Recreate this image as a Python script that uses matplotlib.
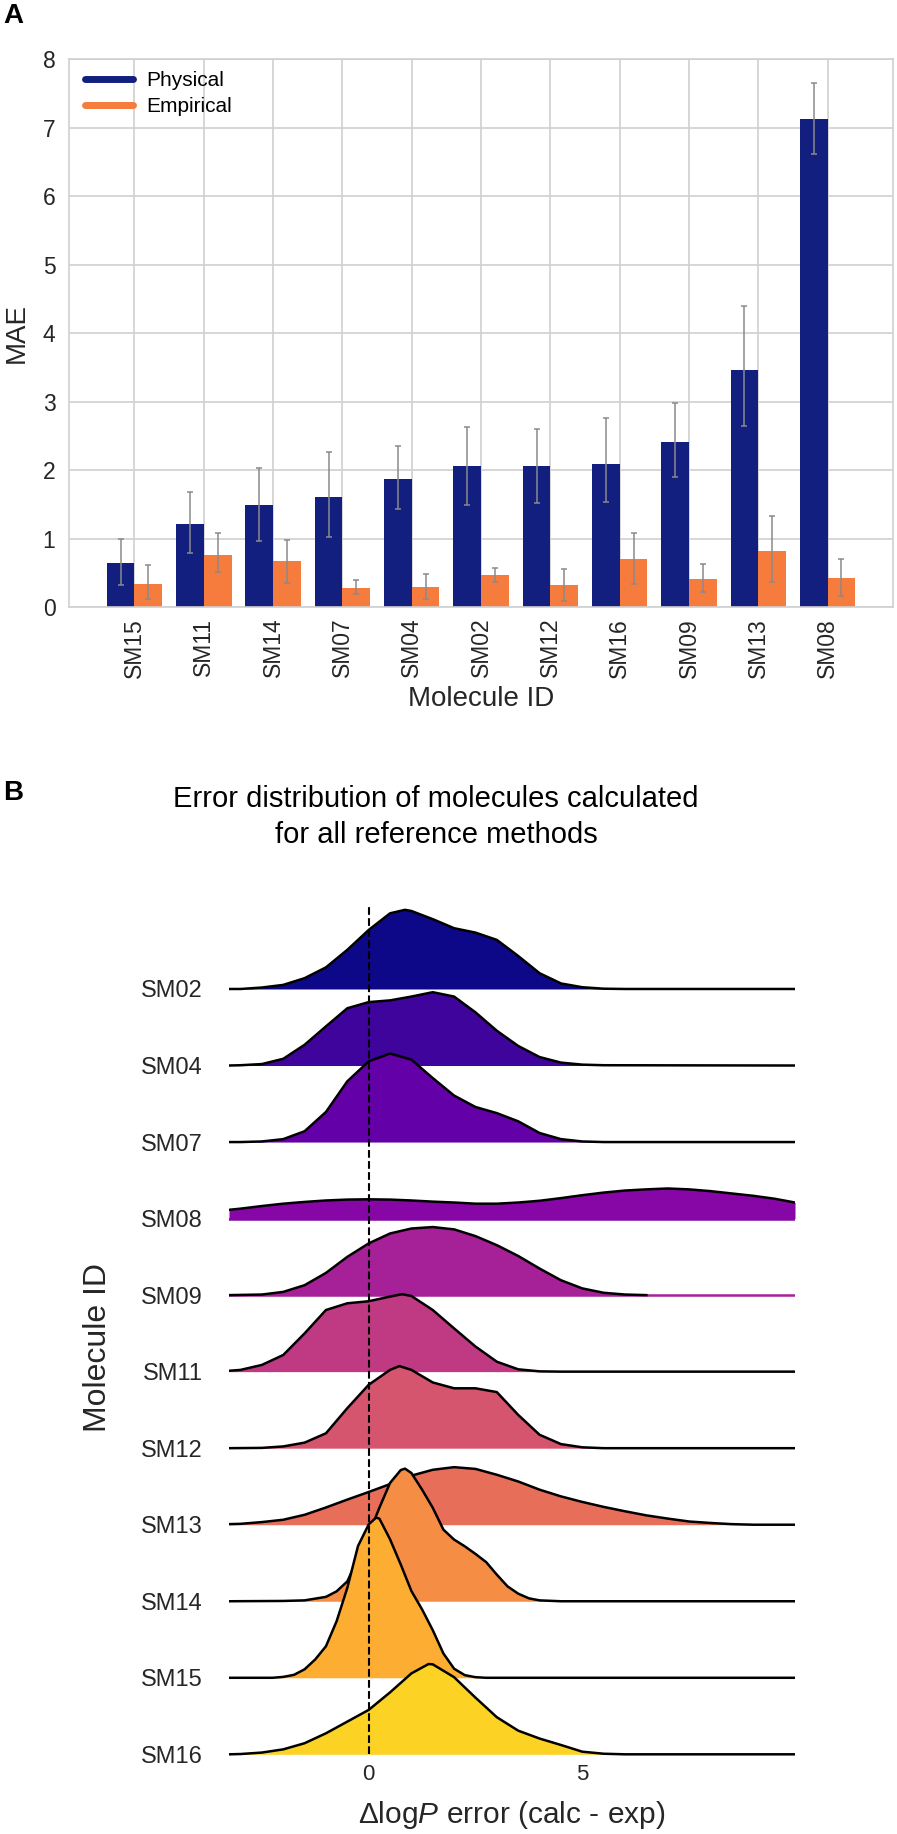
import numpy as np
import matplotlib
matplotlib.use('Agg')
import matplotlib.pyplot as plt
from matplotlib.lines import Line2D

plt.rcParams['font.family'] = ['Liberation Sans', 'DejaVu Sans']
plt.rcParams['mathtext.fontset'] = 'custom'
plt.rcParams['mathtext.rm'] = 'Liberation Sans'
plt.rcParams['mathtext.it'] = 'Liberation Sans:italic'

# ---- panel A: MAE per molecule (sorted by physical MAE) ----
molecules = ['SM15', 'SM11', 'SM14', 'SM07', 'SM04', 'SM02', 'SM12', 'SM16', 'SM09', 'SM13', 'SM08']
mae_physical = [0.645, 1.22, 1.50, 1.61, 1.87, 2.07, 2.07, 2.10, 2.41, 3.47, 7.13]
ci_physical_low = [0.32, 0.80, 0.97, 1.03, 1.44, 1.50, 1.52, 1.54, 1.90, 2.65, 6.62]
ci_physical_high = [1.00, 1.68, 2.04, 2.27, 2.36, 2.64, 2.61, 2.76, 2.98, 4.40, 7.65]
mae_empirical = [0.34, 0.76, 0.68, 0.29, 0.30, 0.47, 0.32, 0.71, 0.42, 0.825, 0.43]
ci_empirical_low = [0.13, 0.52, 0.36, 0.19, 0.12, 0.37, 0.095, 0.34, 0.22, 0.37, 0.16]
ci_empirical_high = [0.62, 1.08, 0.98, 0.40, 0.49, 0.57, 0.56, 1.09, 0.635, 1.34, 0.70]

# ---- panel B: error density per molecule ----
err_min, err_max = -3.27, 9.98
ridge_ids = ['SM02', 'SM04', 'SM07', 'SM08', 'SM09', 'SM11', 'SM12', 'SM13', 'SM14', 'SM15', 'SM16']

sm02_x = [-3.27, -3, -2.5, -2, -1.5, -1, -0.5, 0, 0.5, 0.85, 1, 1.5, 2, 2.5, 3, 3.5, 4, 4.5, 5, 5.5, 6, 9.98]
sm02_d = [0, 0, 0.005, 0.014, 0.037, 0.074, 0.134, 0.202, 0.259, 0.271, 0.267, 0.239, 0.208, 0.193, 0.168,
          0.113, 0.054, 0.019, 0.006, 0.001, 0, 0]
sm04_x = [-3.27, -3, -2.5, -2, -1.5, -1, -0.5, 0, 0.5, 1, 1.5, 2, 2.5, 3, 3.5, 4, 4.5, 5, 5.5, 9.98]
sm04_d = [0, 0.001, 0.005, 0.023, 0.071, 0.134, 0.196, 0.217, 0.223, 0.236, 0.251, 0.236, 0.182, 0.119,
          0.067, 0.029, 0.010, 0.003, 0.001, 0]
sm07_x = [-3.27, -3, -2.5, -2, -1.5, -1, -0.5, 0, 0.5, 1, 1.5, 2, 2.5, 3, 3.5, 4, 4.5, 5, 5.5, 9.98]
sm07_d = [0, 0, 0.002, 0.010, 0.037, 0.103, 0.208, 0.276, 0.303, 0.282, 0.219, 0.159, 0.120, 0.099,
          0.071, 0.031, 0.010, 0.002, 0, 0]
sm08_x = [-3.27, -3, -2.5, -2, -1.5, -1, -0.5, 0, 0.5, 1, 1.5, 2, 2.5, 3, 3.5, 4, 4.5, 5, 5.5, 6,
          6.5, 7, 7.5, 8, 8.5, 9, 9.5, 9.98]
sm08_d = [0.030, 0.034, 0.043, 0.051, 0.057, 0.062, 0.065, 0.066, 0.065, 0.062, 0.058, 0.055, 0.051, 0.051,
          0.055, 0.061, 0.070, 0.080, 0.089, 0.096, 0.100, 0.103, 0.100, 0.094, 0.086, 0.078, 0.068, 0.055]
sm09_x = [-3.27, -2.5, -2, -1.5, -1, -0.5, 0, 0.5, 1, 1.5, 2, 2.5, 3, 3.5, 4, 4.5, 5, 5.5, 6, 6.5, 9.98]
sm09_d = [0, 0.002, 0.011, 0.034, 0.076, 0.131, 0.177, 0.211, 0.228, 0.233, 0.225, 0.202, 0.171, 0.134,
          0.091, 0.051, 0.023, 0.008, 0.002, 0, 0]
sm11_x = [-3.27, -3, -2.5, -2, -1.5, -1, -0.5, 0, 0.5, 0.78, 1, 1.5, 2, 2.5, 3, 3.5, 4, 4.5, 9.98]
sm11_d = [0.003, 0.006, 0.023, 0.057, 0.131, 0.211, 0.234, 0.241, 0.257, 0.265, 0.259, 0.211, 0.148,
          0.086, 0.034, 0.008, 0.001, 0, 0]
sm12_x = [-3.27, -2.5, -2, -1.5, -1, -0.5, 0, 0.5, 0.72, 1, 1.5, 2, 2.5, 3, 3.5, 4, 4.5, 5, 5.5, 9.98]
sm12_d = [0, 0.001, 0.006, 0.019, 0.051, 0.137, 0.217, 0.268, 0.281, 0.268, 0.225, 0.205, 0.205, 0.192,
          0.114, 0.046, 0.014, 0.003, 0, 0]
sm13_x = [-3.27, -3, -2.5, -2, -1.5, -1, -0.5, 0, 0.5, 1, 1.5, 2, 2.5, 3, 3.5, 4, 4.5, 5, 5.5, 6,
          6.5, 7, 7.5, 8, 8.5, 9, 9.98]
sm13_d = [0.002, 0.003, 0.009, 0.017, 0.034, 0.059, 0.086, 0.112, 0.139, 0.168, 0.188, 0.197, 0.191, 0.171,
          0.148, 0.120, 0.097, 0.078, 0.061, 0.046, 0.032, 0.021, 0.011, 0.006, 0.002, 0, 0]
sm14_x = [-3.27, -2, -1.5, -1, -0.75, -0.5, -0.25, 0, 0.25, 0.5, 0.75, 0.85, 1, 1.25, 1.5, 1.75, 2, 2.25,
          2.5, 2.75, 3, 3.25, 3.5, 3.75, 4, 4.5, 9.98]
sm14_d = [0, 0.001, 0.003, 0.015, 0.034, 0.068, 0.148, 0.228, 0.320, 0.405, 0.449, 0.454, 0.439, 0.382,
          0.320, 0.245, 0.211, 0.188, 0.162, 0.134, 0.091, 0.051, 0.026, 0.010, 0.003, 0, 0]
sm15_x = [-3.27, -2.25, -2, -1.75, -1.5, -1.25, -1, -0.75, -0.5, -0.25, 0, 0.17, 0.25, 0.5, 0.75, 1, 1.25,
          1.5, 1.75, 2, 2.25, 2.5, 2.75, 9.98]
sm15_d = [0, 0, 0.003, 0.010, 0.029, 0.063, 0.108, 0.194, 0.308, 0.451, 0.525, 0.548, 0.545, 0.474, 0.388,
          0.297, 0.234, 0.163, 0.083, 0.031, 0.009, 0.002, 0, 0]
sm16_x = [-3.27, -3, -2.5, -2, -1.5, -1, -0.5, 0, 0.5, 1, 1.4, 1.5, 2, 2.5, 3, 3.5, 4, 4.5, 5, 5.5, 6, 9.98]
sm16_d = [0, 0.001, 0.006, 0.017, 0.038, 0.072, 0.112, 0.152, 0.212, 0.277, 0.309, 0.308, 0.264, 0.194,
          0.127, 0.081, 0.054, 0.032, 0.009, 0.002, 0, 0]

ridge_x = [sm02_x, sm04_x, sm07_x, sm08_x, sm09_x, sm11_x, sm12_x, sm13_x, sm14_x, sm15_x, sm16_x]
ridge_d = [sm02_d, sm04_d, sm07_d, sm08_d, sm09_d, sm11_d, sm12_d, sm13_d, sm14_d, sm15_d, sm16_d]

BLUE = '#121f7f'
ORANGE = '#f57c3c'
GRID = '#d0d0d0'

fig = plt.figure(figsize=(8.97, 18.34), dpi=100)

# ================= panel A =================
ax = fig.add_axes([0.0773, 0.6688, 0.9180, 0.2989])
pos = np.arange(len(molecules))
w = 0.4
phys = np.array(mae_physical)
emp = np.array(mae_empirical)
ax.bar(pos - w / 2, phys, w, color=BLUE, zorder=2)
ax.bar(pos + w / 2, emp, w, color=ORANGE, zorder=2)
ax.errorbar(pos - w / 2, phys, yerr=[phys - np.array(ci_physical_low), np.array(ci_physical_high) - phys],
            fmt='none', ecolor='#8a8a8a', elinewidth=1.1, capsize=2.3, capthick=1.1, zorder=3)
ax.errorbar(pos + w / 2, emp, yerr=[emp - np.array(ci_empirical_low), np.array(ci_empirical_high) - emp],
            fmt='none', ecolor='#8a8a8a', elinewidth=1.1, capsize=2.3, capthick=1.1, zorder=3)

ax.set_xlim(-0.94, 10.94)
ax.set_ylim(0, 8)
ax.set_xticks(pos)
ax.set_xticklabels(molecules, rotation=90)
ax.set_yticks(range(0, 9))
ax.tick_params(axis='x', length=0, pad=7.5, labelsize=16.5, colors='#262626')
ax.tick_params(axis='y', length=0, pad=10, labelsize=16.5, colors='#262626')
ax.grid(True, color=GRID, lw=1.2)
ax.set_axisbelow(True)
for sp in ax.spines.values():
    sp.set_color(GRID)
    sp.set_linewidth(1.2)
ax.set_ylabel('MAE', fontsize=20, labelpad=9, color='#262626')
ax.set_xlabel('Molecule ID', fontsize=20, labelpad=6, color='#262626')

handles = [Line2D([0], [0], color=BLUE, lw=5, solid_capstyle='round'),
           Line2D([0], [0], color=ORANGE, lw=5, solid_capstyle='round')]
ax.legend(handles, ['Physical', 'Empirical'], loc='upper left', bbox_to_anchor=(0.009, 0.993),
          borderaxespad=0, frameon=False, fontsize=15, handlelength=2.3, handletextpad=0.65,
          labelspacing=0.33)

fig.text(3 / 897, 1 - 23 / 1834, 'A', fontsize=20, fontweight='bold', va='baseline')

# ================= panel B =================
fig.text(3 / 897, 1 - 800 / 1834, 'B', fontsize=20, fontweight='bold', va='baseline')
fig.text(436 / 897, 1 - 807 / 1834, 'Error distribution of molecules calculated',
         fontsize=21, ha='center', va='baseline')
fig.text(436 / 897, 1 - 843 / 1834, 'for all reference methods',
         fontsize=21, ha='center', va='baseline')

rx = fig.add_axes([229 / 897, 1 - 1756 / 1834, 566 / 897, 861 / 1834])
rx.patch.set_alpha(0)
n = len(ridge_ids)
dens_scale = 3.817  # row spacings per unit of density
colors = [plt.cm.plasma(i / n) for i in range(n)]

for i, (name, xs, ds) in enumerate(zip(ridge_ids, ridge_x, ridge_d)):
    base = -i
    xs = np.array(xs)
    ys = base + np.array(ds) * dens_scale
    rx.fill_between(xs, base, ys, color=colors[i], lw=0, zorder=2 * i + 1)
    if name in ('SM08', 'SM09'):
        # these two rows show a coloured baseline instead of the black one
        rx.plot([err_min, err_max], [base, base], color=colors[i], lw=1.8, zorder=2 * i + 1)
        nz = np.nonzero(np.array(ds) > 0)[0]
        lo, hi = max(nz[0] - 1, 0), min(nz[-1] + 1, len(xs) - 1)
        rx.plot(xs[lo:hi + 1], ys[lo:hi + 1], color='black', lw=1.8, zorder=2 * i + 2)
    else:
        rx.plot(xs, ys, color='black', lw=1.8, zorder=2 * i + 2)

rx.vlines(0, -(n - 1), 1.1, colors='black', linestyles='--', lw=1.5, zorder=50)

rx.set_xlim(err_min, err_max)
rx.set_ylim(-10.022, 1.228)
rx.set_yticks([-i for i in range(n)])
rx.set_yticklabels(ridge_ids)
rx.set_xticks([0, 5])
rx.tick_params(axis='y', length=0, pad=18.7, labelsize=17, colors='#262626')
rx.tick_params(axis='x', length=0, pad=5.8, labelsize=16, colors='#262626')
for sp in rx.spines.values():
    sp.set_visible(False)

fig.text(512 / 897, 1 - 1823 / 1834, 'Δlog$P$ error (calc - exp)', fontsize=21.5, ha='center',
         va='baseline', color='#262626')
fig.text(98 / 897, 1 - 1347 / 1834, 'Molecule ID', fontsize=23, rotation=90, ha='center',
         va='center', color='#262626')

fig.savefig('out.png', dpi=100)
